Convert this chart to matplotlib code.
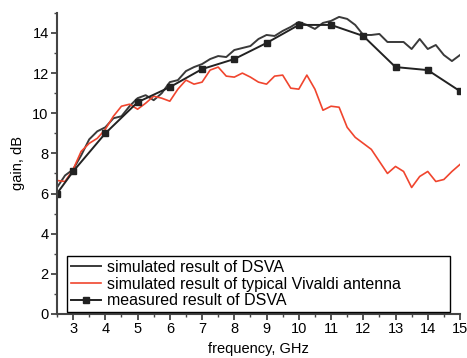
import matplotlib
matplotlib.use('Agg')
import matplotlib.pyplot as plt
import numpy as np
from matplotlib.ticker import MultipleLocator

plt.rcParams['font.family'] = ['Liberation Sans', 'DejaVu Sans']

# simulated DSVA
sim_f = [2.5, 2.75, 3.0, 3.25, 3.5, 3.75, 4.0, 4.25, 4.5, 4.75, 5.0, 5.25, 5.5, 5.75,
         6.0, 6.25, 6.5, 6.75, 7.0, 7.25, 7.5, 7.75, 8.0, 8.25, 8.5, 8.75, 9.0, 9.25,
         9.5, 9.75, 10.0, 10.25, 10.5, 10.75, 11.0, 11.25, 11.5, 11.75, 12.0, 12.25,
         12.5, 12.75, 13.0, 13.25, 13.5, 13.75, 14.0, 14.25, 14.5, 14.75, 15.0]
sim_g = [6.3, 6.9, 7.2, 7.9, 8.7, 9.1, 9.3, 9.75, 9.85, 10.35, 10.75, 10.9, 10.65, 11.0,
         11.55, 11.65, 12.1, 12.3, 12.45, 12.7, 12.85, 12.8, 13.15, 13.25, 13.35, 13.7, 13.9, 13.85,
         14.1, 14.3, 14.55, 14.4, 14.2, 14.5, 14.6, 14.8, 14.7, 14.4, 13.9, 13.9,
         13.95, 13.55, 13.55, 13.55, 13.2, 13.7, 13.2, 13.4, 12.9, 12.6, 12.9]

# simulated typical Vivaldi antenna
viv_f = [2.5, 2.75, 3.0, 3.25, 3.5, 3.75, 4.0, 4.25, 4.5, 4.75, 5.0, 5.25, 5.5, 5.75,
         6.0, 6.25, 6.5, 6.75, 7.0, 7.25, 7.5, 7.75, 8.0, 8.25, 8.5, 8.75, 9.0, 9.25,
         9.5, 9.75, 10.0, 10.25, 10.5, 10.75, 11.0, 11.25, 11.5, 11.75, 12.0, 12.25,
         12.5, 12.75, 13.0, 13.25, 13.5, 13.75, 14.0, 14.25, 14.5, 14.75, 15.0]
viv_g = [6.65, 6.6, 7.2, 8.1, 8.5, 8.75, 9.2, 9.85, 10.35, 10.45, 10.2, 10.5, 10.85, 10.75,
         10.6, 11.2, 11.65, 11.45, 11.55, 12.15, 12.3, 11.85, 11.8, 12.0, 11.8, 11.55, 11.45, 11.85,
         11.9, 11.25, 11.2, 11.9, 11.2, 10.15, 10.35, 10.3, 9.3, 8.8, 8.5, 8.2,
         7.6, 7.0, 7.35, 7.1, 6.3, 6.85, 7.1, 6.6, 6.7, 7.1, 7.45]

# measured DSVA
meas_f = [2.5, 3, 4, 5, 6, 7, 8, 9, 10, 11, 12, 13, 14, 15]
meas_g = [6.0, 7.1, 9.0, 10.55, 11.3, 12.2, 12.7, 13.5, 14.4, 14.4, 13.85, 12.3, 12.15, 11.1]

fig = plt.figure(figsize=(4.67, 3.58), dpi=100)
ax = fig.add_axes([0.122, 0.123, 0.863, 0.841])

ax.plot(sim_f, sim_g, color='#3a3a3a', lw=1.4, label='simulated result of DSVA')
ax.plot(viv_f, viv_g, color='#f0452e', lw=1.2, label='simulated result of typical Vivaldi antenna')
ax.plot(meas_f, meas_g, color='#222222', lw=1.4, marker='s', markersize=5,
        label='measured result of DSVA')

ax.set_xlim(2.5, 15)
ax.set_ylim(0, 15)
ax.xaxis.set_major_locator(MultipleLocator(1))
ax.xaxis.set_minor_locator(MultipleLocator(0.5))
ax.yaxis.set_major_locator(MultipleLocator(2))
ax.yaxis.set_minor_locator(MultipleLocator(1))
for s in ['top', 'right']:
    ax.spines[s].set_visible(False)
for s in ['left', 'bottom']:
    ax.spines[s].set_linewidth(1.5)
    ax.spines[s].set_color('#444444')
ax.tick_params(which='major', length=4, width=1.3, labelsize=10.5, color='#444444', pad=2)
ax.tick_params(which='minor', length=2.5, width=1.0, color='#444444')

ax.set_xlabel('frequency, GHz', fontsize=10.5, labelpad=4)
ax.set_ylabel('gain, dB', fontsize=10.5, labelpad=5)

leg = ax.legend(loc='lower left', bbox_to_anchor=(0.025, 0.005, 0.95, 0.2), mode='expand',
                fontsize=11.5, frameon=True, fancybox=False, edgecolor='black',
                handlelength=1.9, handletextpad=0.35, borderpad=0.25, labelspacing=0.12,
                borderaxespad=0.0)
leg.get_frame().set_linewidth(1.0)
leg.get_frame().set_alpha(1)

fig.savefig('out.png', dpi=100)
